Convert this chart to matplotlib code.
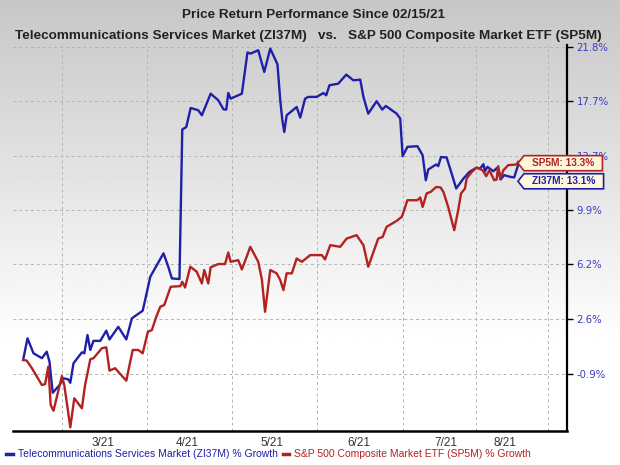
import numpy as np
import matplotlib
matplotlib.use("Agg")
import matplotlib.pyplot as plt
from matplotlib.path import Path

# x = trading session since 02/15/21, y = % growth
zi_x = [0, 1.1, 2.6, 4.7, 5.9, 6.6, 7.4, 9.1, 10.1, 11.3, 11.8, 12.6, 14.7, 15.3, 16.1, 16.8,
        17.6, 19.3, 20.8, 21.6, 23.8, 25.8, 27.2, 29.9, 30.5, 31.8, 35.1, 36.3, 37.2, 39.1,
        39.8, 40.8, 41.9, 43.8, 44.7, 46.9, 48.8, 50.1, 50.8, 51.3, 51.9, 54.7, 56.1, 56.9,
        58.8, 60.3, 61.8, 63.6, 64.3, 64.8, 65.3, 65.9, 68.4, 69.3, 70.5, 71.3, 73.4, 75.1,
        75.8, 76.6, 78.8, 80.8, 82.6, 84.3, 85.1, 86.3, 88.4, 89.8, 90.7, 93.4, 94.3, 94.9,
        96.1, 98.6, 99.9, 100.7, 101.3, 103.3, 103.8, 104.5, 105.9, 106.9, 108.3, 110.1,
        111.6, 113.3, 114.3, 115.1, 115.5, 116.1, 117.6, 118.6, 119.4, 120.3, 121.8, 122.8,
        123.8]
zi_y = [0.0, 1.37, 0.42, 0.11, 0.52, -0.11, -2.05, -1.57, -1.15, -1.22, -1.43, -0.21, 0.48,
        0.42, 1.58, 0.63, 1.21, 1.21, 1.86, 1.30, 2.11, 1.30, 2.66, 3.15, 3.84, 5.38, 6.95,
        6.05, 5.27, 5.23, 15.63, 15.81, 17.21, 17.04, 16.67, 18.27, 17.78, 17.11, 17.09,
        18.32, 17.90, 18.27, 21.38, 21.30, 21.55, 19.90, 21.68, 20.48, 17.78, 16.36, 15.45,
        16.67, 17.28, 16.50, 17.90, 18.03, 18.03, 18.32, 18.15, 18.90, 19.02, 19.70, 19.27,
        19.32, 18.03, 16.79, 17.71, 17.09, 17.36, 16.79, 16.43, 13.70, 14.37, 14.42, 13.77,
        11.99, 12.75, 13.11, 12.99, 13.64, 13.61, 12.70, 11.41, 12.11, 12.58, 12.87, 12.82,
        13.13, 12.63, 12.94, 12.63, 12.89, 12.04, 12.35, 12.23, 12.19, 13.10]

sp_x = [0, 0.9, 2.2, 4.7, 5.5, 6.3, 6.9, 7.6, 9.7, 10.3, 11.8, 12.8, 14.7, 15.5, 16.8, 17.6,
        19.7, 20.8, 21.6, 23.0, 25.8, 27.4, 28.8, 29.9, 31.2, 32.2, 33.3, 34.3, 35.3, 36.9,
        39.3, 39.8, 40.5, 41.8, 43.4, 44.7, 45.3, 46.3, 46.9, 48.8, 50.5, 51.3, 51.9, 53.8,
        54.7, 55.9, 56.8, 58.8, 59.7, 60.5, 61.8, 63.4, 64.3, 65.1, 65.9, 67.2, 68.4, 69.7,
        71.8, 74.7, 75.5, 76.8, 79.3, 80.9, 83.4, 85.1, 86.3, 88.8, 89.9, 90.9, 93.4, 94.7,
        96.1, 98.6, 99.3, 99.9, 100.9, 101.9, 103.3, 104.4, 105.1, 106.3, 107.8, 108.8,
        109.5, 110.5, 110.9, 112.2, 113.4, 114.9, 115.8, 116.6, 117.8, 118.4, 118.8, 119.4,
        120.1, 121.3, 123.4, 123.8]
sp_y = [0.0, -0.04, -0.52, -1.57, -1.51, -0.42, -2.80, -3.15, -1.01, -1.57, -4.16, -2.39,
        -3.00, -1.57, 0.04, 0.11, 0.74, 0.80, -0.67, -0.52, -1.30, 0.63, 0.63, 0.42, 1.79,
        1.90, 2.76, 3.41, 3.52, 4.72, 4.76, 5.05, 4.67, 6.05, 5.72, 4.94, 5.83, 4.94, 6.01,
        6.23, 6.23, 7.01, 6.38, 6.49, 5.87, 6.72, 7.39, 6.38, 5.21, 3.08, 5.83, 5.61, 5.16,
        4.50, 5.61, 5.61, 6.60, 6.38, 6.83, 6.83, 6.54, 7.50, 7.39, 7.95, 8.18, 7.50, 6.05,
        7.95, 8.06, 8.75, 9.16, 9.44, 10.59, 10.59, 10.78, 10.12, 11.06, 11.17, 11.52, 11.48,
        11.17, 10.12, 8.52, 9.90, 11.06, 11.41, 12.11, 12.58, 12.89, 12.70, 12.28, 12.70,
        11.99, 12.04, 12.99, 12.11, 12.70, 13.06, 13.11, 13.30]

y_ticks = [-0.9, 2.6, 6.2, 9.9, 13.7, 17.7, 21.8]
month_starts = [9.8, 30.9, 52.2, 73.6, 95.1, 113.3, 131.3]
month_mid = [20.0, 41.0, 62.3, 84.0, 105.8, 120.5]
month_labels = ['3/21', '4/21', '5/21', '6/21', '7/21', '8/21']

blue = '#1f1fa8'
red = '#b32121'

fig = plt.figure(figsize=(6.2, 4.65), dpi=100)

# grey to white background
bg = fig.add_axes([0, 0, 1, 1], zorder=0)
bg.axis('off')
g = np.clip(0.78 + 0.22 * np.linspace(0, 1, 465) * 465 / 345, 0, 1)
bg.imshow(np.tile(g[:, None], (1, 2)), cmap='gray', vmin=0, vmax=1, aspect='auto',
          extent=[0, 1, 0, 1])

ax = fig.add_axes([0.0205, 0.0731, 0.894, 0.830], zorder=1)
ax.patch.set_alpha(0)
ax.set_yscale('function', functions=(lambda v: np.log1p(np.asarray(v) / 100),
                                     lambda t: np.expm1(np.asarray(t)) * 100))

l1, = ax.plot(zi_x, zi_y, color=blue, lw=1.7,
              label='Telecommunications Services Market (ZI37M) % Growth')
l2, = ax.plot(sp_x, sp_y, color=red, lw=1.7,
              label='S&P 500 Composite Market ETF (SP5M) % Growth')

ax.set_xlim(-2.6, 136)
ax.set_ylim(-4.38, 21.95)

ax.set_yticks(y_ticks)
ax.set_yticklabels(['%.1f%%' % v for v in y_ticks])
ax.yaxis.tick_right()
ax.tick_params(axis='y', which='both', length=4, width=1, color='black',
               labelsize=7.3, labelcolor='#3a3ac0', pad=3)
ax.yaxis.set_minor_locator(matplotlib.ticker.NullLocator())

ax.set_xticks(month_starts)
ax.set_xticklabels([])
ax.set_xticks(month_mid, minor=True)
ax.set_xticklabels(month_labels, minor=True)
ax.tick_params(axis='x', which='both', length=0, pad=4)
for t in ax.get_xticklabels(minor=True):
    t.set_family('Liberation Sans')
    t.set_fontsize(8.5)
    t.set_color('#333333')

ax.grid(True, which='major', color='#b4b4b4', lw=0.7, ls=(0, (3, 3)))
ax.spines['left'].set_visible(False)
ax.spines['top'].set_visible(False)
ax.spines['right'].set_linewidth(1.6)
ax.spines['bottom'].set_linewidth(1.8)


def tag(x0, y0, width, height, mutation_size):
    # label box with a pointed left side
    px = mutation_size * 0.8
    py = mutation_size * 0.25
    x0, y0 = x0 - px, y0 - py
    w, h = width + 2 * px, height + 2 * py
    verts = [(x0 - h * 0.4, y0 + h / 2), (x0, y0), (x0 + w, y0),
             (x0 + w, y0 + h), (x0, y0 + h), (x0 - h * 0.4, y0 + h / 2)]
    codes = [Path.MOVETO] + [Path.LINETO] * 4 + [Path.CLOSEPOLY]
    return Path(verts, codes)


ax.annotate('SP5M: 13.3%', xy=(sp_x[-1], sp_y[-1]), xytext=(10, -1), textcoords='offset points',
            ha='left', va='center', fontsize=7.3, fontweight='bold', family='Liberation Sans',
            color=red, bbox=dict(boxstyle=tag, fc='#fdf8dc', ec=red, lw=1.2),
            annotation_clip=False, zorder=5)
ax.annotate('ZI37M: 13.1%', xy=(zi_x[-1], zi_y[-1]), xytext=(10, -12), textcoords='offset points',
            ha='left', va='center', fontsize=7.3, fontweight='bold', family='Liberation Sans',
            color=blue, bbox=dict(boxstyle=tag, fc='#fdf8dc', ec=blue, lw=1.2),
            annotation_clip=False, zorder=5)

fig.text(0.505, 0.968, 'Price Return Performance Since 02/15/21', ha='center', va='center',
         fontsize=9.7, fontweight='bold', family='Liberation Sans', color='#222222')
fig.text(0.497, 0.923,
         'Telecommunications Services Market (ZI37M)   vs.   S&P 500 Composite Market ETF (SP5M)',
         ha='center', va='center', fontsize=9.7, fontweight='bold', family='Liberation Sans',
         color='#222222')

leg = fig.legend(handles=[l1, l2], loc='lower left', bbox_to_anchor=(-0.005, -0.008), ncol=2,
                 frameon=False, handlelength=0.6, handletextpad=0.5, columnspacing=0.5,
                 prop={'family': 'Liberation Sans', 'size': 7.5})
for txt, c in zip(leg.get_texts(), [blue, red]):
    txt.set_color(c)
for h in leg.legend_handles:
    h.set_linewidth(2.5)

fig.savefig('out.png', dpi=100)
